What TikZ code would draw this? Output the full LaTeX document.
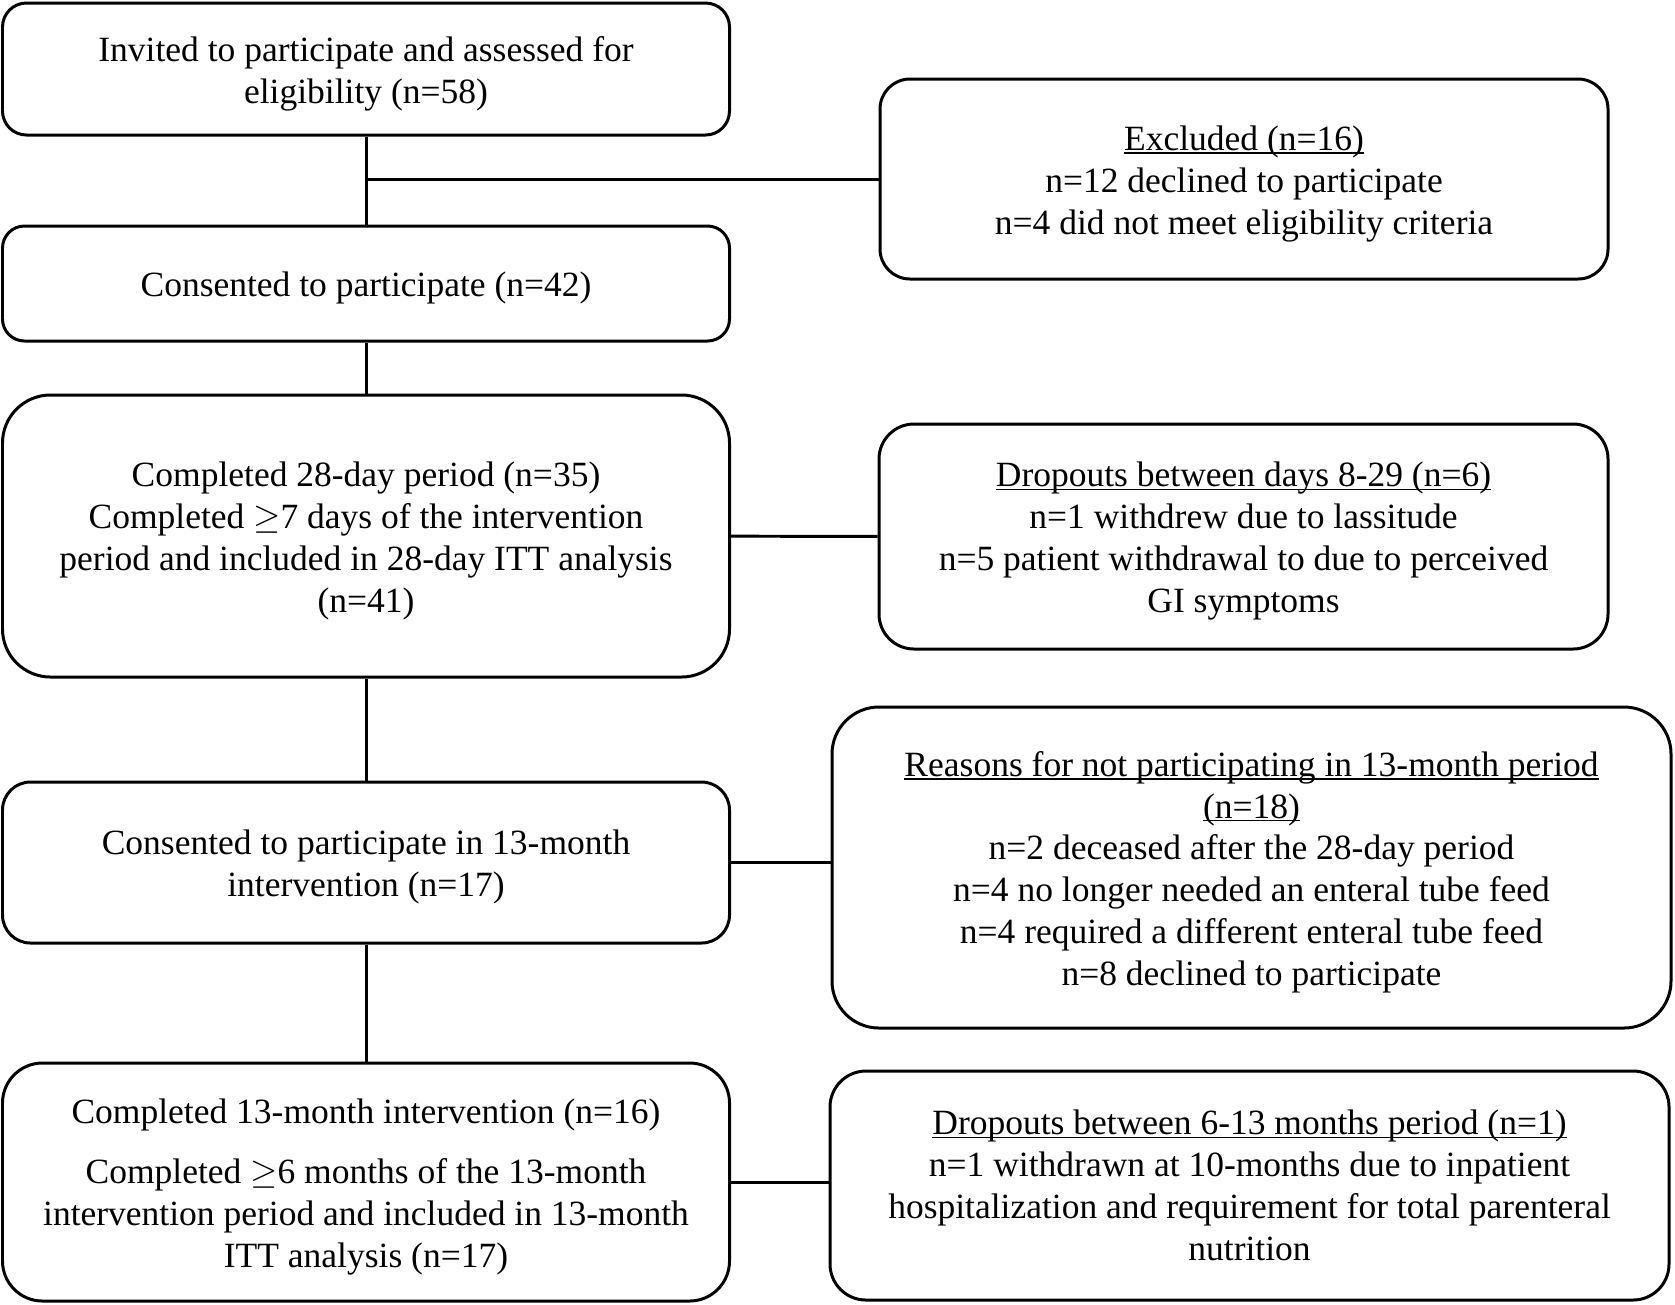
\documentclass[tikz,border=0pt]{standalone}
\usepackage{fontspec}
\setmainfont{Liberation Serif}
\usepackage{tikz}
\newcommand{\headline}[1]{\setbox0\hbox{#1}\rlap{\rule[-0.95pt]{\wd0}{0.4pt}}\box0}
\newcommand{\firstrow}{\rule{0pt}{9.7pt}}
\tikzstyle{stage}=[draw, line width=0.85pt, minimum width=7.27cm, align=center, inner sep=0pt, font=\fontsize{10.1}{11.9}\selectfont]
\tikzstyle{reason}=[draw, line width=0.85pt, align=center, inner sep=0pt, font=\fontsize{10.1}{11.9}\selectfont]
\tikzstyle{link}=[line width=0.85pt]

\begin{document}
\begin{tikzpicture}
\useasboundingbox (0,0) rectangle (16.75,-13.04);
\node[stage, minimum height=1.32cm, rounded corners=0.24cm] at (3.66, -0.69) (invite) {\firstrow Invited to participate and assessed for\\eligibility (n=58)};
\node[stage, minimum height=1.15cm, rounded corners=0.22cm] at (3.66, -2.835) (consent) {\firstrow Consented to participate (n=42)};
\node[stage, minimum height=2.82cm, rounded corners=0.48cm] at (3.66, -5.36) (day28) {\firstrow Completed 28-day period (n=35)\\Completed $\geq$7 days of the intervention\\period and included in 28-day ITT analysis\\(n=41)};
\node[stage, minimum height=1.61cm, rounded corners=0.28cm] at (3.66, -8.625) (consent13) {\firstrow Consented to participate in 13-month\\intervention (n=17)};
\node[stage, minimum height=2.38cm, rounded corners=0.40cm] at (3.66, -11.82) (month13) {\firstrow Completed 13-month intervention (n=16)\\[5.4pt]Completed $\geq$6 months of the 13-month\\intervention period and included in 13-month\\ITT analysis (n=17)};
\node[reason, minimum width=7.28cm, minimum height=2.00cm, rounded corners=0.30cm] at (12.44, -1.79) (excluded) {\firstrow\headline{Excluded (n=16)}\\n=12 declined to participate\\n=4 did not meet eligibility criteria};
\node[reason, minimum width=7.29cm, minimum height=2.25cm, rounded corners=0.35cm] at (12.435, -5.365) (drop28) {\firstrow\headline{Dropouts between days 8-29 (n=6)}\\n=1 withdrew due to lassitude\\n=5 patient withdrawal to due to perceived\\GI symptoms};
\node[reason, minimum width=8.39cm, minimum height=3.21cm, rounded corners=0.47cm] at (12.515, -8.675) (notpart) {\firstrow\headline{Reasons for not participating in 13-month period}\\\headline{(n=18)}\\n=2 deceased after the 28-day period\\n=4 no longer needed an enteral tube feed\\n=4 required a different enteral tube feed\\n=8 declined to participate};
\node[reason, minimum width=8.39cm, minimum height=2.29cm, rounded corners=0.36cm] at (12.495, -11.855) (drop13) {\headline{Dropouts between 6-13 months period (n=1)}\\n=1 withdrawn at 10-months due to inpatient\\hospitalization and requirement for total parenteral\\nutrition};
\coordinate (split) at (invite.south |- excluded.west);
\draw[link] (invite) -- (consent);
\draw[link] (split) -- (excluded);
\draw[link] (consent) -- (day28);
\draw[link] (day28) -- (drop28);
\draw[link] (day28) -- (consent13);
\draw[link] (consent13.east) -- (consent13.east -| notpart.west);
\draw[link] (consent13) -- (month13);
\draw[link] (month13.east) -- (month13.east -| drop13.west);
\end{tikzpicture}
\end{document}
